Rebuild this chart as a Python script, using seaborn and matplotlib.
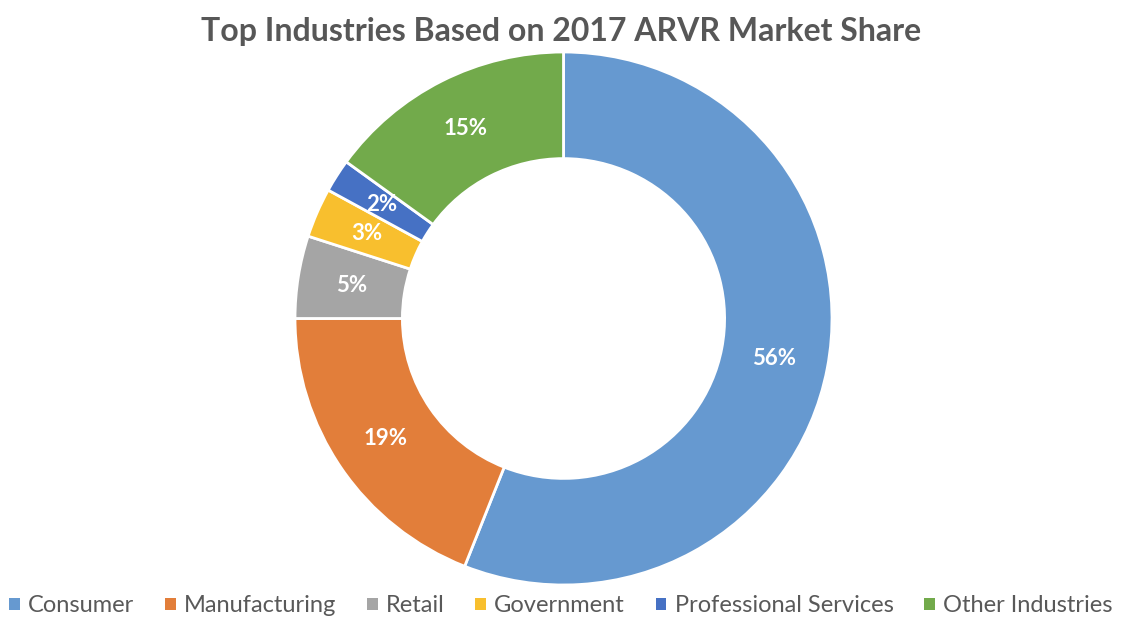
import matplotlib
matplotlib.use("Agg")
import matplotlib.pyplot as plt
import seaborn as sns
from matplotlib.patches import Patch

# Market share by industry, 2017 AR/VR (percent)
industries = ["Consumer", "Manufacturing", "Retail", "Government",
              "Professional Services", "Other Industries"]
shares = [56, 19, 5, 3, 2, 15]
colors = ["#6699D0", "#E27E3A", "#A5A5A5", "#F8BF2E", "#4671C4", "#72AA4B"]
title = "Top Industries Based on 2017 ARVR Market Share"

sns.set_theme(style="white")
plt.rcParams["font.family"] = ["Lato", "DejaVu Sans"]

palette = sns.color_palette(colors)

W, H = 1122, 619
fig = plt.figure(figsize=(W / 100, H / 100), dpi=100)
fig.patch.set_facecolor("white")

# donut area in pixel terms: centre (563.5, 318.5), radii 268.5 x 266.5
cx, cy, rx, ry = 563.5, 318.5, 268.5, 266.5
ax = fig.add_axes([(cx - rx) / W, (H - cy - ry) / H, 2 * rx / W, 2 * ry / H])

wedges, texts, autotexts = ax.pie(
    shares,
    colors=palette,
    startangle=90,
    counterclock=False,
    radius=1.0,
    autopct=lambda p: f"{p:.0f}%",
    pctdistance=0.8,
    wedgeprops=dict(width=0.4, edgecolor="white", linewidth=2),
    textprops=dict(color="white", fontsize=16, fontweight="bold"),
)
ax.set_aspect("auto")
ax.set_xlim(-1, 1)
ax.set_ylim(-1, 1)
ax.axis("off")

fig.text(0.5, 1 - 31 / H, title, ha="center", va="center",
         fontsize=23, fontweight="bold", color="#575757")

handles = [Patch(facecolor=c, edgecolor="none") for c in palette]
leg = fig.legend(handles, industries, loc="center", ncol=6,
                 bbox_to_anchor=(0.5, 1 - 606 / H), frameon=False,
                 handlelength=0.45, handleheight=0.45, handletextpad=0.35,
                 columnspacing=1.3, fontsize=17)
for t in leg.get_texts():
    t.set_color("#595959")

fig.savefig("out.png", dpi=100, facecolor="white")
